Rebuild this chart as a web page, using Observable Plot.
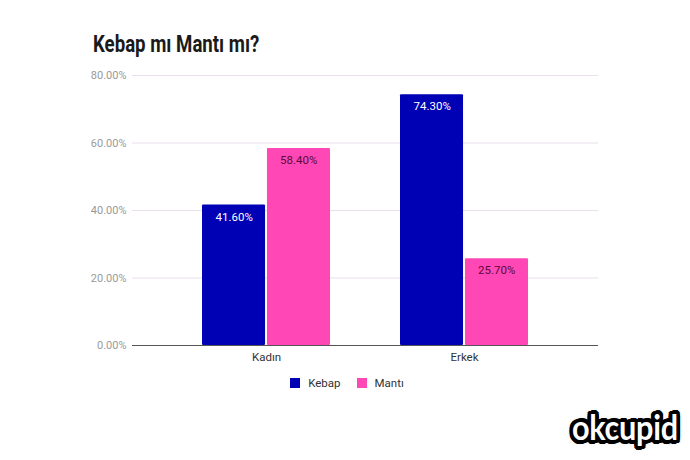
<!DOCTYPE html>
<html><head><meta charset="utf-8">
<script src="https://cdn.jsdelivr.net/npm/d3@7"></script>
<script src="https://cdn.jsdelivr.net/npm/@observablehq/plot@0.6"></script>
<style>
body{margin:0;background:#fff;font-family:Roboto,"Noto Sans",sans-serif;}
#wrap{position:relative;width:690px;height:460px;overflow:hidden;}
#title{position:absolute;left:93px;top:31px;font-size:23px;font-weight:700;color:#1a1a1a;transform:scaleX(0.81);transform-origin:0 0;white-space:nowrap;}
#legend{position:absolute;top:376px;left:2px;width:690px;display:flex;justify-content:center;font-size:11.5px;color:#333;}
.li{display:flex;align-items:center;margin:0 8px;}
.sw{width:10px;height:10px;margin-right:8px;}
#logo{position:absolute;left:572px;top:406px;font-family:Lato,"DejaVu Sans",sans-serif;font-weight:700;font-size:34px;color:#fff;letter-spacing:-0.3px;transform:scaleX(0.9);transform-origin:0 0;
text-shadow:-3px -3px 0 #000,3px -3px 0 #000,-3px 3px 0 #000,3px 3px 0 #000,0 -4px 0 #000,0 4px 0 #000,-4px 0 0 #000,4px 0 0 #000,-4px -2px 0 #000,4px 2px 0 #000,-4px 2px 0 #000,4px -2px 0 #000,-2px 4px 0 #000,2px -4px 0 #000,0 0 7px #999;}
#wrap svg{position:absolute;left:0;top:0;}
</style></head>
<body><div id="wrap"><div id="title">Kebap mı Mantı mı?</div><div id="legend"></div><div id="logo">okcupid</div></div>
<script>
const categories = ["Kadın", "Erkek"];
const series = ["Kebap", "Mantı"];
const kebap = [41.6, 74.3];
const manti = [58.4, 25.7];
const yTicks = [0, 20, 40, 60, 80];
const colors = ["#0000b4", "#ff48b6"];
const labelColors = ["#ffffff", "#5a0a38"];

const data = [];
categories.forEach((c, i) => {
  data.push({cat: c, series: "Kebap", value: kebap[i]});
  data.push({cat: c, series: "Mantı", value: manti[i]});
});

const W = 690, H = 460, mL = 132, mR = 92, mT = 75, mB = 115;
const pIn = 0.352, pOut = 0.347;
const bw = d3.scaleBand().domain(categories).range([mL, W - mR]).paddingInner(pIn).paddingOuter(pOut).bandwidth();
const half = bw / 2;
const fmt = v => v.toFixed(2) + "%";

const kebapData = data.filter(d => d.series === "Kebap");
const mantiData = data.filter(d => d.series === "Mantı");

const chart = Plot.plot({
  width: W, height: H,
  marginLeft: mL, marginRight: mR, marginTop: mT, marginBottom: mB,
  style: {fontFamily: "Roboto, sans-serif", background: "transparent"},
  x: {domain: categories, paddingInner: pIn, paddingOuter: pOut, label: null, tickSize: 0, tickPadding: 6},
  y: {domain: [0, 80], ticks: yTicks, tickFormat: fmt, label: null, tickSize: 0, tickPadding: 6},
  marks: [
    Plot.gridY(yTicks.filter(t => t > 0), {stroke: "#e9dfee", strokeOpacity: 1, strokeWidth: 1}),
    Plot.barY(kebapData, {x: "cat", y: "value", fill: colors[0], insetLeft: 0, insetRight: half + 0.5, rx: 1}),
    Plot.barY(mantiData, {x: "cat", y: "value", fill: colors[1], insetLeft: half + 0.5, insetRight: 0, rx: 1}),
    Plot.text(kebapData, {x: "cat", y: "value", text: d => fmt(d.value), dx: -half / 2, dy: 12, fill: labelColors[0], fontSize: 11.5}),
    Plot.text(mantiData, {x: "cat", y: "value", text: d => fmt(d.value), dx: half / 2, dy: 12, fill: labelColors[1], fontSize: 11.5}),
    Plot.ruleY([0], {stroke: "#555", strokeWidth: 1.2}),
    Plot.axisY({ticks: yTicks, tickFormat: fmt, tickSize: 0, tickPadding: 6, fill: "#9a9a9a", fontSize: 11, label: null}),
    Plot.axisX({tickSize: 0, tickPadding: 7, fill: "#333", fontSize: 11.5, label: null})
  ]
});
document.getElementById("wrap").appendChild(chart);

const lg = document.getElementById("legend");
series.forEach((s, i) => {
  const el = document.createElement("div");
  el.className = "li";
  el.innerHTML = `<span class="sw" style="background:${colors[i]}"></span><span>${s}</span>`;
  lg.appendChild(el);
});
</script>
</body></html>
